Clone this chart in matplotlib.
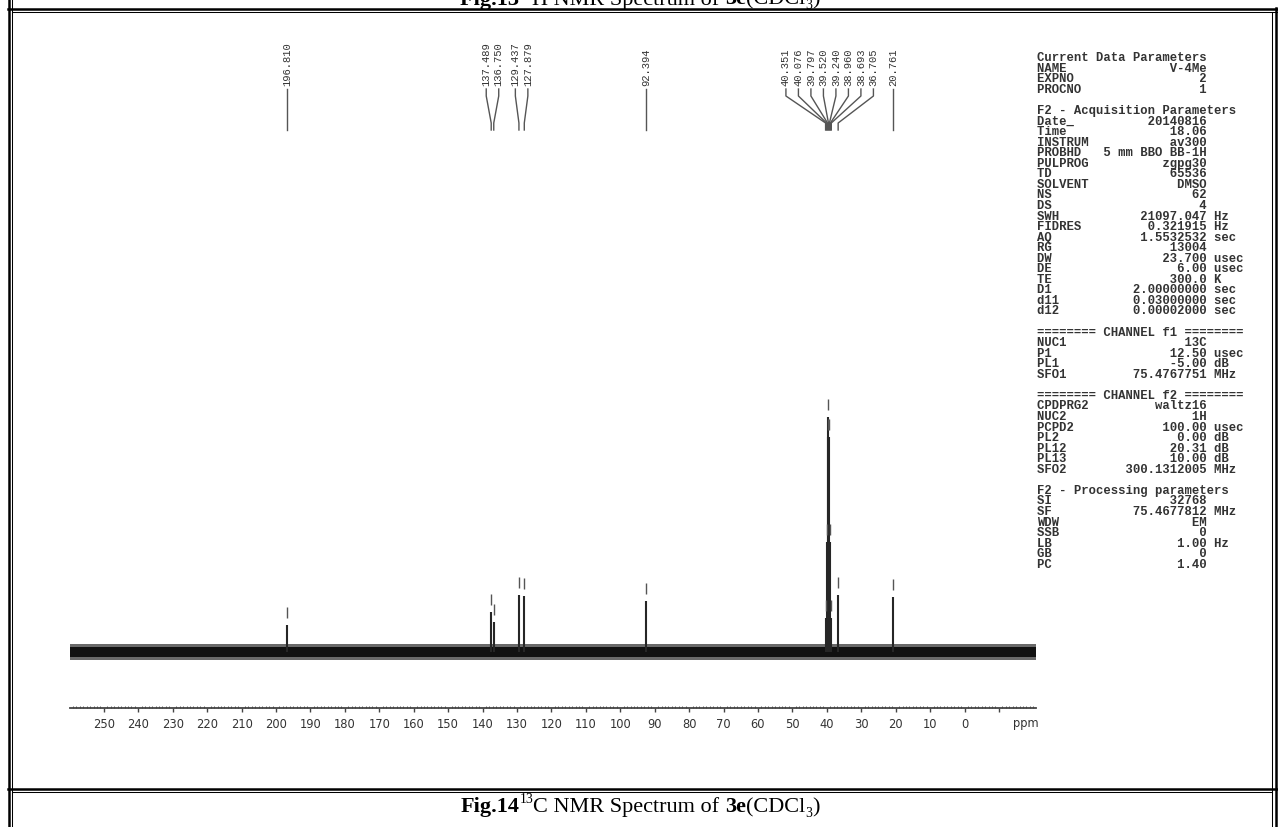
"""13C NMR spectrum of 3e drawn as a Bruker-style printout with parameter block."""
import matplotlib

matplotlib.use("Agg")
import matplotlib.pyplot as plt
from matplotlib.ticker import FixedLocator, MultipleLocator

##########################
## Data

# Picked peaks (ppm) and relative heights (DMSO centre line = 100)
peak_ppm = [196.810, 137.489, 136.750, 129.437, 127.879, 92.394,
            40.351, 40.076, 39.797, 39.520, 39.240, 38.960, 38.693,
            36.705, 20.761]
peak_int = [11.5, 17.0, 12.8, 24.3, 23.8, 21.7,
            14.5, 46.8, 91.5, 100.0, 91.5, 46.8, 14.5,
            24.3, 23.4]
# baseline noise: dense core and outer spike level
noise_core = 2.2
noise_spikes = 3.6

ppm_ticks = list(range(250, -11, -10))
ppm_ticklabels = [str(t) if t >= 0 else "" for t in ppm_ticks]

param_rows = [
    ("Current Data Parameters",),
    ("NAME", "V-4Me"),
    ("EXPNO", "2"),
    ("PROCNO", "1"),
    ("",),
    ("F2 - Acquisition Parameters",),
    ("Date_", "20140816"),
    ("Time", "18.06"),
    ("INSTRUM", "av300"),
    ("PROBHD", "5 mm BBO BB-1H"),
    ("PULPROG", "zgpg30"),
    ("TD", "65536"),
    ("SOLVENT", "DMSO"),
    ("NS", "62"),
    ("DS", "4"),
    ("SWH", "21097.047", "Hz"),
    ("FIDRES", "0.321915", "Hz"),
    ("AQ", "1.5532532", "sec"),
    ("RG", "13004"),
    ("DW", "23.700", "usec"),
    ("DE", "6.00", "usec"),
    ("TE", "300.0", "K"),
    ("D1", "2.00000000", "sec"),
    ("d11", "0.03000000", "sec"),
    ("d12", "0.00002000", "sec"),
    ("",),
    ("======== CHANNEL f1 ========",),
    ("NUC1", "13C"),
    ("P1", "12.50", "usec"),
    ("PL1", "-5.00", "dB"),
    ("SFO1", "75.4767751", "MHz"),
    ("",),
    ("======== CHANNEL f2 ========",),
    ("CPDPRG2", "waltz16"),
    ("NUC2", "1H"),
    ("PCPD2", "100.00", "usec"),
    ("PL2", "0.00", "dB"),
    ("PL12", "20.31", "dB"),
    ("PL13", "10.00", "dB"),
    ("SFO2", "300.1312005", "MHz"),
    ("",),
    ("F2 - Processing parameters",),
    ("SI", "32768"),
    ("SF", "75.4677812", "MHz"),
    ("WDW", "EM"),
    ("SSB", "0"),
    ("LB", "1.00", "Hz"),
    ("GB", "0"),
    ("PC", "1.40"),
]

# caption pieces: text, weight, script ("" / "sup" / "sub")
caption = [("Fig.14", "bold", ""), ("13", "normal", "sup"),
           ("C NMR Spectrum of ", "normal", ""), ("3e", "bold", ""),
           ("(CDCl", "normal", ""), ("3", "normal", "sub"), (")", "normal", "")]
prev_caption = [("Fig.13 ", "bold", ""), ("1", "normal", "sup"),
                ("H NMR Spectrum of ", "normal", ""), ("3e", "bold", ""),
                ("(CDCl", "normal", ""), ("3", "normal", "sub"), (")", "normal", "")]

##########################
## Figure

W, H = 1278, 827
fig = plt.figure(figsize=(W / 100, H / 100), dpi=100)

# page overlay in pixel units (y downwards) for frame, text and peak labels
page = fig.add_axes([0, 0, 1, 1])
page.set_xlim(0, W)
page.set_ylim(H, 0)
page.axis("off")

# double-ruled table frame
thick, thin = 1.8, 0.75
page.plot([9, 9], [0, H], color="k", lw=thick)
page.plot([12, 12], [0, H], color="k", lw=thin)
page.plot([8, W], [8.7, 8.7], color="k", lw=thick)
page.plot([12, W], [12, 12], color="k", lw=thin)
page.plot([1275.5, 1275.5], [8, H], color="k", lw=thick)
page.plot([1272, 1272], [12, H], color="k", lw=thin)
page.plot([8, W], [788.5, 788.5], color="k", lw=thick)
page.plot([12, 1272], [792, 792], color="k", lw=thin)

renderer = fig.canvas.get_renderer()


def draw_caption(pieces, xc, y, size):
    """Lay out mixed bold / super- / subscript pieces centred on xc (baseline y)."""
    items = []
    for txt, weight, script in pieces:
        fs = size * 0.62 if script else size
        dy = {"": 0, "sup": -size * 0.55, "sub": size * 0.3}[script]
        t = page.text(0, y + dy, txt, ha="left", va="baseline", fontsize=fs,
                      family="Liberation Serif", fontweight=weight)
        w = t.get_window_extent(renderer).width
        items.append((t, w))
    x = xc - sum(w for _, w in items) / 2
    for t, w in items:
        t.set_x(x)
        x += w


draw_caption(prev_caption, 640, 4.5, 16)
draw_caption(caption, 640, 812, 16)

# spectrum axes: baseline at y=652 px, 2.35 px per intensity unit
left_px, right_px, top_px, bottom_px, base_px = 70, 1036, 380, 708, 652
px_per_unit = 2.35
ax = fig.add_axes([left_px / W, (H - bottom_px) / H,
                   (right_px - left_px) / W, (bottom_px - top_px) / H])
ax.set_facecolor("none")
xlim = (259.85, -20.77)
ax.set_xlim(*xlim)
ax.set_ylim(-(bottom_px - base_px) / px_per_unit, (base_px - top_px) / px_per_unit)

# baseline noise band
ax.fill_between(xlim, -noise_spikes, noise_spikes, color="#6a6a6a", lw=0)
ax.fill_between(xlim, -noise_core, noise_core, color="#111111", lw=0)

# peaks and their pick markers
ax.vlines(peak_ppm, 0, peak_int, color="#262626", lw=1.5)
ax.vlines(peak_ppm, [h + 3.0 for h in peak_int], [h + 7.7 for h in peak_int],
          color="#555555", lw=1.0)

for side in ("left", "right", "top"):
    ax.spines[side].set_visible(False)
ax.spines["bottom"].set_color("#444444")
ax.spines["bottom"].set_linewidth(1.3)
ax.yaxis.set_visible(False)
ax.xaxis.set_major_locator(FixedLocator(ppm_ticks))
ax.set_xticklabels(ppm_ticklabels)
ax.xaxis.set_minor_locator(MultipleLocator(1))
ax.tick_params(axis="x", which="major", direction="out", length=3, width=1,
               color="#444444", labelsize=8.3, labelcolor="#333333", pad=4.3)
ax.tick_params(axis="x", which="minor", direction="in", length=1.8, width=0.6,
               color="#444444")
page.text(1026, 723, "ppm", ha="center", va="center", fontsize=8.3, color="#333333")

# peak labels spread apart above the spectrum
fig.canvas.draw()
peak_px = [ax.transData.transform((p, 0))[0] for p in peak_ppm]
gap = 12.5
clusters = [[i] for i in range(len(peak_px))]


def cluster_pos(c):
    centre = sum(peak_px[i] for i in c) / len(c)
    return [centre + (k - (len(c) - 1) / 2) * gap for k in range(len(c))]


merged = True
while merged:
    merged = False
    out = [clusters[0]]
    for c in clusters[1:]:
        if cluster_pos(out[-1])[-1] + gap > cluster_pos(c)[0]:
            out[-1] = out[-1] + c
            merged = True
        else:
            out.append(c)
    clusters = out

for c in clusters:
    for i, lx in zip(c, cluster_pos(c)):
        px = peak_px[i]
        page.plot([lx, lx, px, px], [89, 96, 123, 130], color="#555555", lw=1.0)
        page.text(lx, 86, f"{peak_ppm[i]:.3f}", rotation=90, ha="center",
                  va="bottom", family="Liberation Mono", fontsize=7.6,
                  color="#333333")

# acquisition / processing parameter block
for i, row in enumerate(param_rows):
    if len(row) == 1:
        line = row[0]
    else:
        line = row[0] + row[1].rjust(23 - len(row[0]))
        if len(row) == 3:
            line += " " + row[2]
    page.text(1037, 58.3 + 10.55 * i, line, ha="left", va="center",
              family="Liberation Mono", fontweight="bold", fontsize=8.8,
              color="#333333")

fig.savefig("out.png", dpi=100)
